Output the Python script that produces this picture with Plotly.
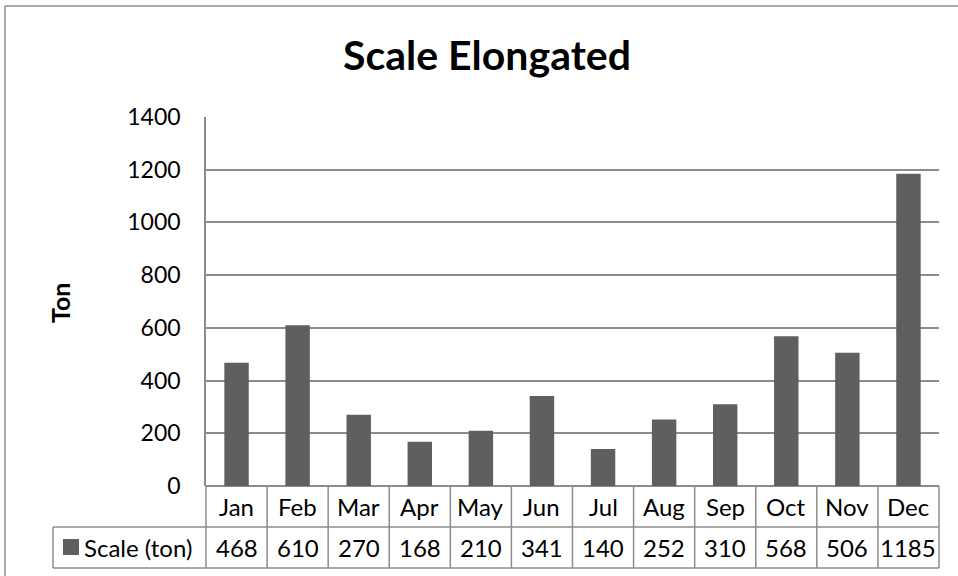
import plotly.graph_objects as go

# --- data ---
months = ["Jan", "Feb", "Mar", "Apr", "May", "Jun",
          "Jul", "Aug", "Sep", "Oct", "Nov", "Dec"]
scale_ton = [468, 610, 270, 168, 210, 341, 140, 252, 310, 568, 506, 1185]
series_name = "Scale (ton)"
y_ticks = [0, 200, 400, 600, 800, 1000, 1200, 1400]

# --- layout in pixels ---
W, H = 958, 576
L, R, T, B = 206, 19, 117, 90
PW, PH = W - L - R, H - T - B
ROW = 41                       # data-table row height
LEG_LEFT = 53                  # left edge of legend cell
BAR_COLOR = "#5f5f5f"
LINE_COLOR = "#8c8c8c"
FONT = "Lato, Calibri, Arial, sans-serif"
TABLE_SIZE = 24


def px_x(p):
    return (p - L) / PW


def px_y(p):
    return (H - B - p) / PH


fig = go.Figure(go.Bar(
    x=list(range(len(months))), y=scale_ton, marker_color=BAR_COLOR,
    marker_line_width=0, name=series_name, showlegend=False,
    hoverinfo="x+y",
))

shapes = []
annotations = []
y_row1 = px_y(H - B + ROW)
y_row2 = px_y(H - B + 2 * ROW)
grid_line = dict(color=LINE_COLOR, width=1.5)

# horizontal table lines
shapes.append(dict(type="line", xref="paper", yref="paper", x0=px_x(LEG_LEFT), x1=1,
                   y0=y_row1, y1=y_row1, line=grid_line))
shapes.append(dict(type="line", xref="paper", yref="paper", x0=px_x(LEG_LEFT), x1=1,
                   y0=y_row2, y1=y_row2, line=grid_line))
# vertical table lines between categories
for i in range(1, len(months)):
    shapes.append(dict(type="line", xref="x", yref="paper", x0=i - 0.5, x1=i - 0.5,
                       y0=0, y1=y_row2, line=grid_line))
# outer table edges
for xe in (0, 1):
    shapes.append(dict(type="line", xref="paper", yref="paper", x0=xe, x1=xe,
                       y0=0, y1=y_row2, line=grid_line))
shapes.append(dict(type="line", xref="paper", yref="paper",
                   x0=px_x(LEG_LEFT), x1=px_x(LEG_LEFT),
                   y0=y_row1, y1=y_row2, line=grid_line))
# legend key
shapes.append(dict(type="rect", xref="paper", yref="paper",
                   x0=px_x(63), x1=px_x(79), y0=px_y(539), y1=px_y(555),
                   fillcolor=BAR_COLOR, line=dict(width=0)))
# chart frame
shapes.append(dict(type="line", xref="paper", yref="paper",
                   x0=px_x(5), x1=px_x(5), y0=px_y(6), y1=px_y(H + 5),
                   line=grid_line))
shapes.append(dict(type="line", xref="paper", yref="paper",
                   x0=px_x(5), x1=px_x(W + 5), y0=px_y(6), y1=px_y(6),
                   line=grid_line))

# table text
for i, (m, v) in enumerate(zip(months, scale_ton)):
    annotations.append(dict(x=i, y=(0 + y_row1) / 2, xref="x", yref="paper",
                            text=m, showarrow=False, yanchor="middle",
                            font=dict(family=FONT, size=TABLE_SIZE, color="#000")))
    annotations.append(dict(x=i, y=(y_row1 + y_row2) / 2, xref="x", yref="paper",
                            text=str(v), showarrow=False, yanchor="middle",
                            font=dict(family=FONT, size=TABLE_SIZE, color="#000")))
annotations.append(dict(x=px_x(82), y=(y_row1 + y_row2) / 2, xref="paper", yref="paper",
                        text=series_name, showarrow=False, xanchor="left", yanchor="middle",
                        font=dict(family=FONT, size=TABLE_SIZE, color="#000")))
# y-axis title
annotations.append(dict(x=px_x(60), y=px_y(303), xref="paper", yref="paper",
                        text="<b>Ton</b>", showarrow=False, textangle=-90,
                        xanchor="center", yanchor="middle",
                        font=dict(family=FONT, size=25, color="#000")))

fig.update_layout(
    width=W, height=H,
    margin=dict(l=L, r=R, t=T, b=B, pad=0),
    paper_bgcolor="white", plot_bgcolor="white",
    bargap=0.6,
    title=dict(text="<b>Scale Elongated</b>", x=487 / W,
               xanchor="center", y=1 - 55.5 / H, yanchor="middle",
               font=dict(family=FONT, size=41, color="#000")),
    xaxis=dict(range=[-0.5, len(months) - 0.5], showticklabels=False,
               showgrid=False, zeroline=False, showline=False, fixedrange=True),
    yaxis=dict(range=[0, 1400], tickvals=y_ticks, showgrid=True,
               gridcolor=LINE_COLOR, gridwidth=1.5, zeroline=True,
               zerolinecolor=LINE_COLOR, zerolinewidth=1.5,
               showline=True, linecolor=LINE_COLOR, linewidth=1.5,
               ticks="", ticklabelstandoff=19,
               tickfont=dict(family=FONT, size=23, color="#000")),
    shapes=shapes, annotations=annotations,
)

fig.write_html("out.html")
